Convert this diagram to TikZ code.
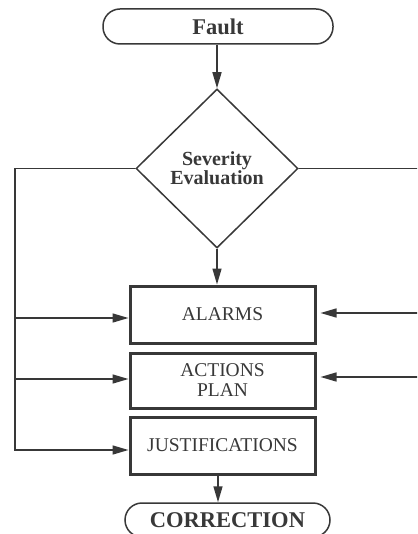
\documentclass[tikz,border=0pt]{standalone}
\usepackage{fontspec}
\setmainfont{Liberation Serif}
\usepackage{tikz}
\usetikzlibrary{shapes.geometric,arrows.meta}
\definecolor{ink}{HTML}{383838}

\begin{document}
\begin{tikzpicture}[x=1pt,y=-1pt,
  line/.style={draw=ink,line width=1.5pt},
  arr/.style={line,-{Triangle[length=16pt,width=9pt]}},
  terminal/.style={draw=ink,line width=1.5pt,rounded corners=17pt,inner sep=0pt,text=ink,font=\fontsize{22.5}{24}\selectfont\bfseries},
  box/.style={draw=ink,line width=3pt,minimum width=185pt,inner sep=0pt,text=ink,align=center,font=\fontsize{19.5}{20}\selectfont},
  decision/.style={diamond,draw=ink,line width=1.5pt,minimum width=162pt,minimum height=159pt,inner sep=0pt,text=ink,align=center,font=\fontsize{20}{19}\selectfont\bfseries}]
\useasboundingbox (0,0) rectangle (417,534);
\clip (0,0) rectangle (417,534);

% Fault and severity evaluation
\node[terminal,minimum width=230pt,minimum height=35pt] (fault) at (218,26.5) {Fault};
\node[decision] (severity) at (217,168.5) {Severity\\Evaluation};

% Outputs
\node[box,minimum height=57pt] (alarms) at (222.5,314.5) {ALARMS};
\node[box,minimum height=55pt] (actions) at (222.5,380.5) {ACTIONS\\PLAN};
\node[box,minimum height=57pt] (justif) at (222.5,445.5) {JUSTIFICATIONS};
\node[terminal,minimum width=205pt,minimum height=34pt] (correction) at (227.5,520) {CORRECTION};

\draw[arr] (fault.south -| severity.north) -- (severity.north);
\draw[arr] (severity.south) -- (severity.south |- alarms.north);
\draw[arr] (justif.south -| fault.south) -- (correction.north -| fault.south);

% Left bus
\coordinate (lalarm) at (15,318);
\coordinate (lplan) at (15,379);
\coordinate (ljust) at (15,450);
\draw[arr] (severity.west) -| (ljust) -- (ljust -| justif.west);
\draw[arr] (lalarm) -- (lalarm -| alarms.west);
\draw[arr] (lplan) -- (lplan -| actions.west);

% Right bus
\coordinate (rtop) at (422,171);
\coordinate (ralarm) at (422,313);
\coordinate (rplan) at (422,377);
\draw[line] (severity.east) -- (severity.east -| rtop);
\draw[arr,shorten >=4pt] (ralarm) -- (ralarm -| alarms.east);
\draw[arr,shorten >=4pt] (rplan) -- (rplan -| actions.east);

\end{tikzpicture}
\end{document}
